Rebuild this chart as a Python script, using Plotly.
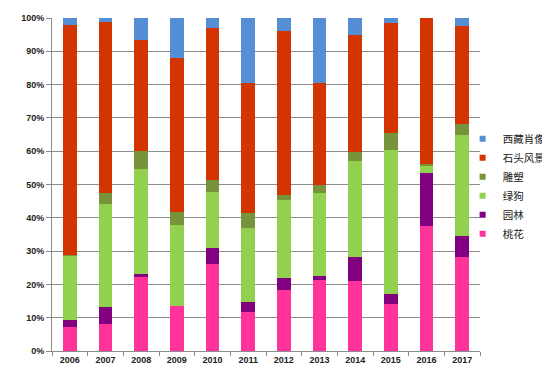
import plotly.graph_objects as go

years = ["2006", "2007", "2008", "2009", "2010", "2011", "2012", "2013", "2014", "2015", "2016", "2017"]
taohua = [7.2, 8.0, 22.5, 13.5, 26.0, 11.8, 18.3, 21.2, 21.0, 14.0, 37.5, 28.1]
yuanlin = [2.0, 5.2, 0.5, 0.0, 4.8, 2.9, 3.7, 1.3, 7.3, 3.0, 16.1, 6.5]
lvgou = [19.5, 31.0, 31.8, 24.3, 17.0, 22.1, 23.4, 25.0, 28.9, 43.3, 2.0, 30.4]
diaosu = [0.2, 3.3, 5.2, 3.9, 3.7, 4.6, 1.4, 2.3, 2.5, 5.1, 0.7, 3.3]
shitou = [68.9, 51.2, 33.5, 46.3, 45.5, 39.0, 49.2, 30.6, 35.3, 33.1, 43.7, 29.2]
xizang = [2.2, 1.3, 6.5, 12.0, 3.0, 19.6, 4.0, 19.6, 5.0, 1.5, 0.0, 2.5]

series = [
    ("桃花", taohua, "#FF3399"),
    ("园林", yuanlin, "#800080"),
    ("绿狗", lvgou, "#92D050"),
    ("雕塑", diaosu, "#77933C"),
    ("石头风景", shitou, "#D43500"),
    ("西藏肖像", xizang, "#558ED5"),
]

fig = go.Figure()
for name, vals, color in series:
    fig.add_trace(go.Bar(x=years, y=vals, name=name, legendgroup=name, showlegend=False,
                         marker=dict(color=color, line=dict(width=0))))
    # legend-only entry with a small square swatch
    fig.add_trace(go.Scatter(x=[None], y=[None], mode="markers", name=name, legendgroup=name,
                             marker=dict(symbol="square", size=6, color=color), hoverinfo="skip"))

fig.update_layout(
    barmode="stack",
    bargap=0.61,
    width=550,
    height=377,
    margin=dict(l=44, r=4, t=10, b=34, autoexpand=False),
    paper_bgcolor="white",
    plot_bgcolor="white",
    font=dict(family="Liberation Sans, Arial, sans-serif", size=10, color="#222222"),
    legend=dict(
        x=0.818, y=0.681, xanchor="left", yanchor="top",
        traceorder="reversed",
        bgcolor="rgba(0,0,0,0)",
        font=dict(family="Noto Sans CJK SC, sans-serif", size=10.5, color="#222222"),
        itemwidth=30,
        tracegroupgap=0,
    ),
    showlegend=True,
)
fig.update_yaxes(
    range=[0, 100], dtick=10, ticksuffix="%",
    showgrid=True, gridcolor="#8c8c8c", gridwidth=1,
    showline=True, linecolor="#8c8c8c", linewidth=1,
    ticks="outside", ticklen=5, tickcolor="#8c8c8c",
    tickfont=dict(size=9, weight="bold", color="#222222"),
    zeroline=False, automargin=False,
)
fig.update_xaxes(
    domain=[0, 428 / 502],
    showline=True, linecolor="#8c8c8c", linewidth=1,
    ticks="outside", ticklen=4, tickcolor="#8c8c8c", tickson="boundaries",
    tickfont=dict(size=9, weight="bold", color="#222222"),
    showgrid=False, automargin=False,
)
fig.write_html("out.html")
